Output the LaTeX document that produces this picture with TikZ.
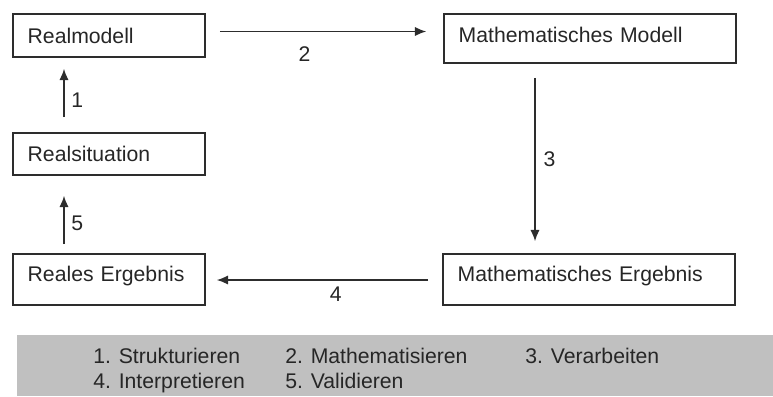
\documentclass[tikz,border=0pt]{standalone}
\usepackage{fontspec}
\setmainfont{Liberation Sans}
\usetikzlibrary{arrows.meta,positioning,calc}

\definecolor{inkgray}{RGB}{38,38,38}
\definecolor{linegray}{RGB}{45,45,45}
\definecolor{legendgray}{RGB}{192,192,192}
\newcommand{\diafont}{\fontsize{15.9pt}{19pt}\selectfont}

\tikzset{
    box/.style={rectangle,draw=linegray,line width=1.2pt,inner xsep=11pt,inner ysep=0pt,align=left,font=\diafont,text=inkgray},
    realbox/.style={box,text width=122pt},
    mathbox/.style={box,text width=197pt},
    flow/.style={-{Latex[length=8.5pt,width=7pt]},draw=linegray,line width=1.1pt},
    num/.style={inner sep=0pt,font=\diafont,text=inkgray},
    item/.style={inner sep=0pt,font=\diafont,text=inkgray,anchor=base west}
}

\begin{document}
\begin{tikzpicture}[x=0.75pt,y=-0.75pt]
    \useasboundingbox (0,0) rectangle (773,396);

    % Real side
    \node[realbox,minimum height=32.25pt] (realmodell) at (109,35.5) {Realmodell};
    \node[realbox,minimum height=31.5pt] (realsit) at (109,154) {Realsituation};
    \node[realbox,minimum height=38.25pt,text depth=8pt] (realerg) at (109,279.5) {Reales Ergebnis};

    % Mathematical side
    \node[mathbox,minimum height=36.75pt,text depth=6pt] (mathmod) at (590,38.5) {Mathematisches Modell};
    \node[mathbox,minimum height=38.25pt,text depth=8pt] (matherg) at (589,279.5) {Mathematisches Ergebnis};

    % Cycle
    \draw[flow] ([shift={(-45,-15)}]realsit.north) -- node[num,right=5pt,pos=0.36] (n1) {1} ([shift={(-45,11)}]realmodell.south);
    \draw[flow] ([shift={(14,-4)}]realmodell.east) -- node[num,below=10.5pt,pos=0.41] (n2) {2} ([shift={(-17,-7)}]mathmod.west);
    \draw[flow] ([shift={(-55,14)}]mathmod.south) -- node[num,right=6pt,pos=0.5] (n3) {3} ([shift={(-54,-12)}]matherg.north);
    \draw[flow] ([shift={(-14,0.5)}]matherg.west) -- node[num,below=4.5pt,pos=0.437] (n4) {4} ([shift={(11,0.5)}]realerg.east);
    \draw[flow] ([shift={(-45,-9)}]realerg.north) -- node[num,right=5pt,pos=0.44] (n5) {5} ([shift={(-45,20)}]realsit.south);

    % Legend
    \node[fill=legendgray,inner sep=0pt,minimum width=567pt,minimum height=45.75pt,anchor=north west] (legend) at (17,335) {};
    \node[item] (s1) at (93,363) {1. Strukturieren};
    \node[item] (s2) at (285,363) {2. Mathematisieren};
    \node[item] (s3) at (525,363) {3. Verarbeiten};
    \node[item] (s4) at (93,388) {4. Interpretieren};
    \node[item] (s5) at (285,388) {5. Validieren};
\end{tikzpicture}
\end{document}
